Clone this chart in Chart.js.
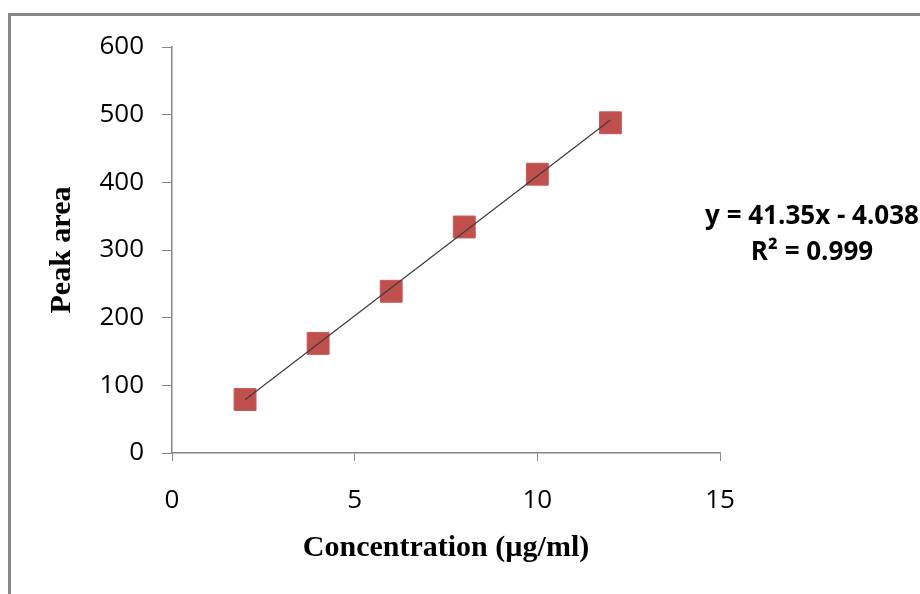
<!DOCTYPE html>
<html>
<head>
<meta charset="utf-8">
<script src="https://cdn.jsdelivr.net/npm/chart.js@4.4.0/dist/chart.umd.min.js"></script>
<style>
body { margin: 0; background: #fff; }
#wrap { position: relative; width: 920px; height: 594px; overflow: hidden; }
#frame { position: absolute; left: 8px; top: 13px; width: 960px; height: 640px; border-left: 3px solid #878787; border-top: 3px solid #878787; }
#myChart { position: absolute; left: 0; top: 0; }
</style>
</head>
<body>
<div id="wrap">
    <div id="frame"></div>
    <canvas id="myChart" width="920" height="594"></canvas>
</div>
<script>
// datos
var concentracion = [2, 4, 6, 8, 10, 12];
var areaPico = [79, 162, 239, 334, 412, 488];
var tendenciaX = [2, 12];
var tendenciaY = [78.7, 492.2];
var ejeX = [0, 15, 5];     // min, max, paso
var ejeY = [0, 600, 100];
var ecuacion = ["y = 41.35x - 4.038", "R\u00B2 = 0.999"];

var gris = "#868686";
var fuenteTicks = { family: "'Open Sans'", size: 26 };
var fuenteTitulo = { family: "'Liberation Serif'", size: 30, weight: "bold" };

var puntos = concentracion.map(function (x, i) { return { x: x, y: areaPico[i] }; });
var linea = tendenciaX.map(function (x, i) { return { x: x, y: tendenciaY[i] }; });

var ecuacionPlugin = {
    id: "ecuacion",
    afterDraw: function (chart) {
        var ctx = chart.ctx;
        ctx.save();
        ctx.font = "bold 26px 'Open Sans'";
        ctx.fillStyle = "#000";
        ctx.textAlign = "center";
        ctx.textBaseline = "middle";
        ctx.fillText(ecuacion[0], 812, 217);
        ctx.fillText(ecuacion[1], 812, 253);
        ctx.restore();
    }
};

var ctx = document.getElementById("myChart").getContext("2d");
var myChart = new Chart(ctx, {
    type: "scatter",
    data: {
        datasets: [
            {
                data: linea,
                showLine: true,
                borderColor: "#3c3c3c",
                borderWidth: 1.2,
                pointRadius: 0,
                fill: false
            },
            {
                data: puntos,
                pointStyle: "rect",
                pointRadius: 15.5,
                backgroundColor: "#C0504D",
                borderColor: "#C65A57",
                borderWidth: 1
            }
        ]
    },
    options: {
        responsive: false,
        animation: false,
        layout: { padding: { top: 47, right: 200, left: 0, bottom: 0 } },
        plugins: {
            legend: { display: false },
            tooltip: { enabled: false }
        },
        scales: {
            x: {
                type: "linear",
                min: ejeX[0],
                max: ejeX[1],
                ticks: { stepSize: ejeX[2], color: "#000", font: fuenteTicks, padding: 24 },
                grid: { drawOnChartArea: false, tickLength: 8, color: gris },
                border: { color: gris, width: 1.5 },
                title: { display: true, text: "Concentration (\u00B5g/ml)", color: "#000", font: fuenteTitulo, padding: { bottom: 28 } },
                afterFit: function (scale) { scale.height = 141; }
            },
            y: {
                min: ejeY[0],
                max: ejeY[1],
                ticks: { stepSize: ejeY[2], color: "#000", font: fuenteTicks, padding: 18 },
                grid: { drawOnChartArea: false, tickLength: 10, color: gris },
                border: { color: gris, width: 1.5 },
                title: { display: true, text: "Peak area", color: "#000", font: fuenteTitulo, padding: { top: 44 } },
                afterFit: function (scale) { scale.width = 172; }
            }
        }
    },
    plugins: [ecuacionPlugin]
});
</script>
</body>
</html>
